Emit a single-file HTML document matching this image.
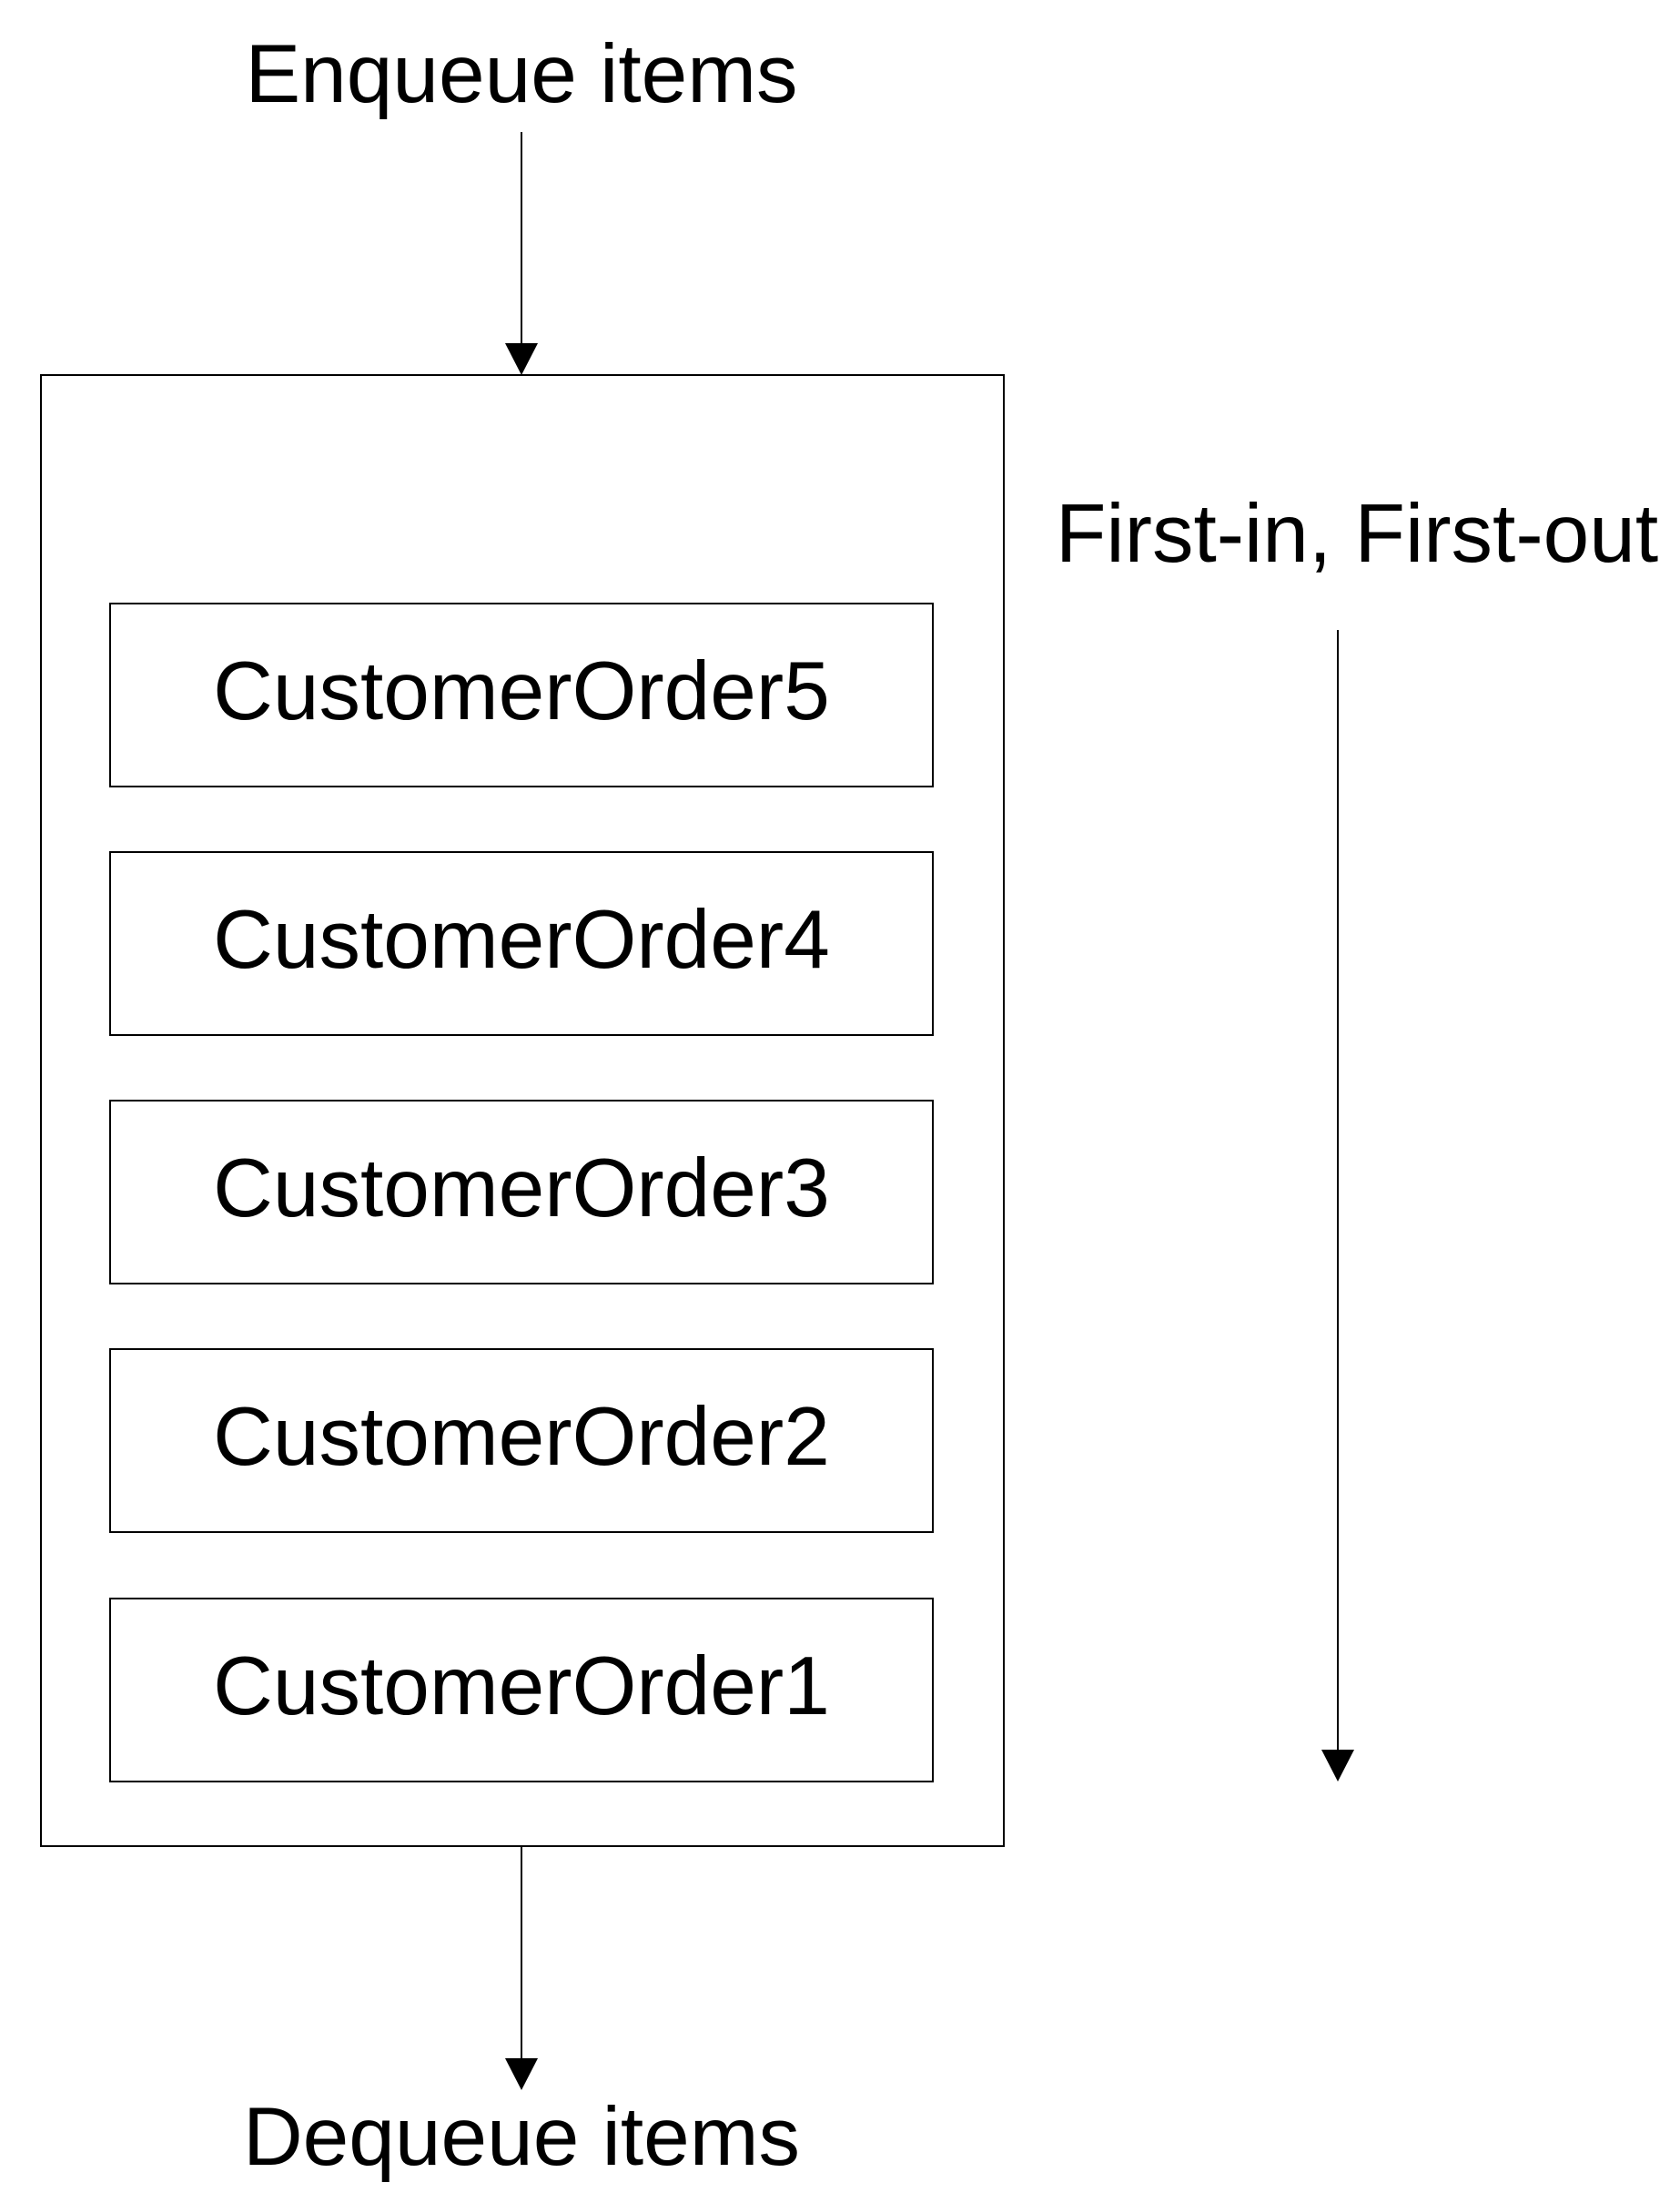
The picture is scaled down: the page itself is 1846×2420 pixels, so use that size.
<!DOCTYPE html>
<html><head><style>html,body{margin:0;padding:0;background:#fff;}</style></head>
<body>
<svg width="1846" height="2420" xmlns="http://www.w3.org/2000/svg" style="display:block">
<g font-family="Liberation Sans, Arial, sans-serif" font-size="91" fill="#000" text-anchor="middle">
<text x="573" y="112">Enqueue items</text>
<text x="573" y="2378">Dequeue items</text>
<text x="1491" y="617">First-in, First-out</text>
<text x="573" y="790">CustomerOrder5</text>
<text x="573" y="1063">CustomerOrder4</text>
<text x="573" y="1336">CustomerOrder3</text>
<text x="573" y="1609">CustomerOrder2</text>
<text x="573" y="1883">CustomerOrder1</text>
</g>
<g fill="none" stroke="#000" stroke-width="2">
<rect x="45" y="412" width="1058" height="1616"/>
<rect x="121" y="663" width="904" height="201"/>
<rect x="121" y="936" width="904" height="201"/>
<rect x="121" y="1209" width="904" height="201"/>
<rect x="121" y="1482" width="904" height="201"/>
<rect x="121" y="1756" width="904" height="201"/>
<line x1="573" y1="145" x2="573" y2="380"/>
<line x1="573" y1="2028" x2="573" y2="2264"/>
<line x1="1470" y1="692" x2="1470" y2="1925"/>
</g>
<g fill="#000">
<polygon points="555,377 591,377 573,412"/>
<polygon points="555,2261 591,2261 573,2296"/>
<polygon points="1452,1922 1488,1922 1470,1957"/>
</g>
</svg>
</body></html>
